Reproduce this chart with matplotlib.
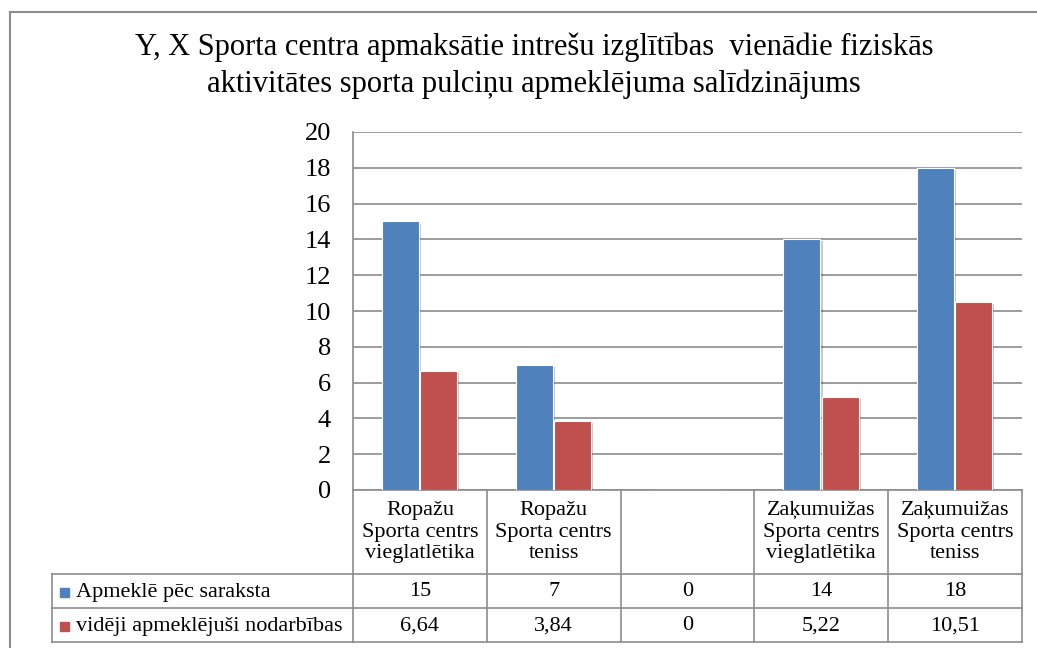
import numpy as np
import matplotlib.pyplot as plt
import matplotlib.transforms as mtransforms
from matplotlib import patheffects

plt.rcParams['font.family'] = ['Liberation Serif', 'DejaVu Serif']

TITLE = 'Y, X Sporta centra apmaksātie intrešu izglītības  vienādie fiziskās\naktivitātes sporta pulciņu apmeklējuma salīdzinājums'
categories = ['Ropažu\nSporta centrs\nvieglatlētika', 'Ropažu\nSporta centrs\nteniss', '',
              'Zaķumuižas\nSporta centrs\nvieglatlētika', 'Zaķumuižas\nSporta centrs\nteniss']
series_names = ['Apmeklē pēc saraksta', 'vidēji apmeklējuši nodarbības']
planned = [15, 7, 0, 14, 18]
attended = [6.64, 3.84, 0, 5.22, 10.51]
colors = ['#4F81BD', '#C0504D']

W, H = 1037, 648
fig = plt.figure(figsize=(W / 100, H / 100), dpi=100)


def fx(px):
    return px / W


def fy(py):
    return 1 - py / H


ax = fig.add_axes([fx(353), fy(490), fx(1022) - fx(353), fy(132) - fy(490)])

x = np.arange(len(categories))
bw = 0.277
shadow = [patheffects.SimplePatchShadow(offset=(1.5, -1.5), alpha=0.25), patheffects.Normal()]
for vals, off, c in [(planned, -0.145, colors[0]), (attended, 0.14, colors[1])]:
    bars = ax.bar(x + off, vals, bw, color=c, edgecolor='white', linewidth=0.8, zorder=3)
    for b in bars:
        b.set_path_effects(shadow)

ax.set_xlim(-0.5, len(categories) - 0.5)
ax.set_ylim(0, 20)
ax.set_yticks(range(0, 21, 2))
ax.yaxis.grid(True, color='#8c8c8c', linewidth=1.2)
ax.set_axisbelow(True)
for s in ['top', 'right', 'bottom']:
    ax.spines[s].set_visible(False)
ax.spines['left'].set_color('#8c8c8c')
ax.spines['left'].set_linewidth(1.2)
ax.tick_params(axis='y', length=0, pad=16, labelsize=19)
ax.set_xticks([])

# data table below the plot
line_kw = dict(color='#8c8c8c', linewidth=1.2, clip_on=False)
trans = mtransforms.blended_transform_factory(ax.transData, fig.transFigure)
row_y = [490, 574, 608, 642]
edges = np.arange(len(categories) + 1) - 0.5
for e in edges:
    ax.plot([e, e], [fy(490), fy(642)], transform=trans, **line_kw)
for py in row_y:
    ax.plot([edges[0], edges[-1]], [fy(py), fy(py)], transform=trans, **line_kw)
# legend column
for py in row_y[1:]:
    fig.add_artist(plt.Line2D([fx(52), fx(353)], [fy(py), fy(py)], **line_kw))
fig.add_artist(plt.Line2D([fx(52), fx(52)], [fy(574), fy(642)], **line_kw))

for i, lab in enumerate(categories):
    ax.text(i, fy(532), lab, transform=trans, ha='center', va='center',
            fontsize=16, linespacing=1.18)
for row, vals in enumerate([planned, attended]):
    cy = fy((row_y[row + 1] + row_y[row + 2]) / 2 + 1)
    for i, v in enumerate(vals):
        ax.text(i, cy, f'{v:g}'.replace('.', ','), transform=trans,
                ha='center', va='center', fontsize=16)
    fig.patches.append(plt.Rectangle((fx(60), cy - 4.5 / H), 9 / W, 9 / H,
                                     color=colors[row], transform=fig.transFigure, figure=fig))
    fig.text(fx(76), cy, series_names[row], ha='left', va='center', fontsize=16)

fig.text(fx(534), fy(66), TITLE, ha='center', va='center', fontsize=22, linespacing=1.32)

# chart border
fig.add_artist(plt.Line2D([fx(10), fx(10)], [fy(12), 0], color='#8c8c8c', linewidth=1.5))
fig.add_artist(plt.Line2D([fx(10), 1], [fy(12), fy(12)], color='#8c8c8c', linewidth=1.5))

fig.savefig('out.png', dpi=100)
